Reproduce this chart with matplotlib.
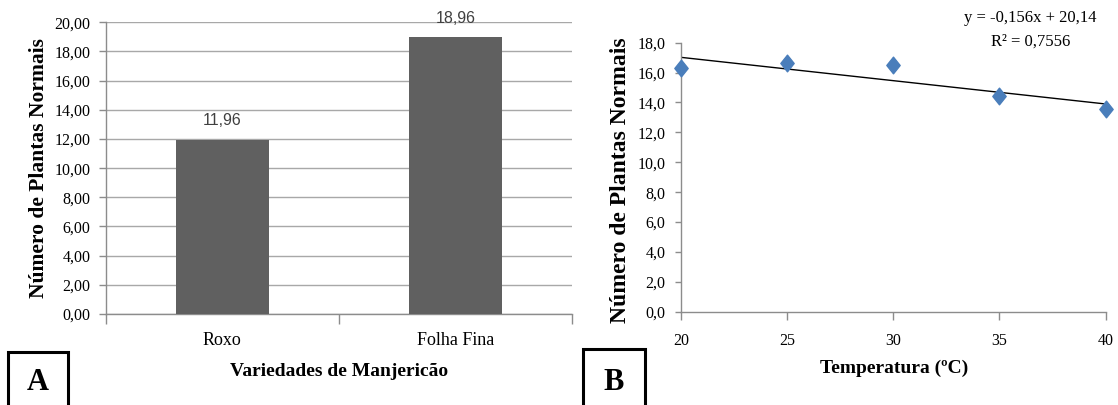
import matplotlib
matplotlib.use("Agg")
import matplotlib.pyplot as plt
from matplotlib.patches import Rectangle
from matplotlib.path import Path
import numpy as np

# ---------------- data ----------------
varieties = ["Roxo", "Folha Fina"]
normal_plants = [11.96, 18.96]
bar_labels = ["11,96", "18,96"]

temperatures = [20, 25, 30, 35, 40]
plants_temp = [16.3, 16.65, 16.5, 14.45, 13.55]
trend_slope = -0.156
trend_intercept = 20.14
eq_text = "y = -0,156x + 20,14"
r2_text = "R² = 0,7556"

yticks_a = [0, 2, 4, 6, 8, 10, 12, 14, 16, 18, 20]
yticks_b = [0, 2, 4, 6, 8, 10, 12, 14, 16, 18]

W, H = 1118, 405
fig = plt.figure(figsize=(W / 100, H / 100), dpi=100)
serif = "Liberation Serif"
axis_gray = "#8c8c8c"

def fx(px):
    return px / W

def fy(py):
    return (H - py) / H

# ---------------- panel A ----------------
axA = fig.add_axes([fx(105.7), fy(314), fx(572) - fx(105.7), fy(22.3) - fy(314)])
pos = np.arange(len(varieties))
axA.bar(pos, normal_plants, width=0.4, color="#606060", zorder=3)
axA.set_xlim(-0.5, 1.5)
axA.set_ylim(0, 20)
axA.set_yticks(yticks_a)
axA.set_yticklabels([f"{v:.2f}".replace(".", ",") for v in yticks_a],
                    fontname=serif, fontsize=11.5)
axA.yaxis.grid(True, color="#a8a8a8", linewidth=1, zorder=0)
axA.set_axisbelow(True)
axA.set_xticks([-0.5, 0.5, 1.5])
axA.set_xticklabels([])
axA.tick_params(axis="x", which="major", length=7, color=axis_gray, width=1)
axA.set_xticks(pos, minor=True)
axA.set_xticklabels(varieties, minor=True, fontname=serif, fontsize=13)
axA.tick_params(axis="x", which="minor", length=0, pad=13)
axA.tick_params(axis="y", length=5, color=axis_gray, width=1, pad=6)
for s in ["top", "right"]:
    axA.spines[s].set_visible(False)
for s in ["left", "bottom"]:
    axA.spines[s].set_color(axis_gray)
    axA.spines[s].set_linewidth(1)
for p, v, lab in zip(pos, normal_plants, bar_labels):
    axA.annotate(lab, (p, v), xytext=(0, 8), textcoords="offset points",
                 ha="center", va="bottom", fontname="Liberation Sans",
                 fontsize=11.5, color="#404040")

fig.text(fx(39), fy(168), "Número de Plantas Normais", rotation=90,
         ha="center", va="center", fontname=serif, fontweight="bold", fontsize=15.5)
fig.text(fx(339), fy(372), "Variedades de Manjericão", ha="center", va="center",
         fontname=serif, fontweight="bold", fontsize=14)

# ---------------- panel B ----------------
axB = fig.add_axes([fx(681), fy(311.7), fx(1105.5) - fx(681), fy(42.7) - fy(311.7)])
diamond = Path([(0, 1), (0.8, 0), (0, -1), (-0.8, 0), (0, 1)],
               [Path.MOVETO, Path.LINETO, Path.LINETO, Path.LINETO, Path.CLOSEPOLY])
xt = np.array([temperatures[0], temperatures[-1]])
axB.plot(xt, trend_slope * xt + trend_intercept, color="black", linewidth=1,
         zorder=2)
axB.plot(temperatures, plants_temp, linestyle="none", marker=diamond,
         markersize=12, color="#4a7ebb", zorder=3, clip_on=False)
axB.set_xlim(20, 40)
axB.set_ylim(0, 18)
axB.set_xticks(temperatures)
axB.set_xticklabels([str(t) for t in temperatures], fontname=serif, fontsize=11.5)
axB.set_yticks(yticks_b)
axB.set_yticklabels([f"{v:.1f}".replace(".", ",") for v in yticks_b],
                    fontname=serif, fontsize=11.5)
axB.tick_params(axis="x", length=6, color=axis_gray, width=1, pad=9)
axB.tick_params(axis="y", length=4, color=axis_gray, width=1, pad=7)
for s in ["top", "right"]:
    axB.spines[s].set_visible(False)
for s in ["left", "bottom"]:
    axB.spines[s].set_color(axis_gray)
    axB.spines[s].set_linewidth(1)

fig.text(fx(1030), fy(18), eq_text, ha="center", va="center",
         fontname=serif, fontsize=12)
fig.text(fx(1031), fy(42), r2_text, ha="center", va="center",
         fontname=serif, fontsize=12)
fig.text(fx(620), fy(180), "Número de Plantas Normais", rotation=90,
         ha="center", va="center", fontname=serif, fontweight="bold", fontsize=17)
fig.text(fx(894.5), fy(368), "Temperatura (ºC)", ha="center", va="center",
         fontname=serif, fontweight="bold", fontsize=14)

# ---------------- panel letters ----------------
for x0, x1, top, letter in [(8, 68, 352, "A"), (583, 645, 349, "B")]:
    rect = Rectangle((fx(x0), -0.05), fx(x1) - fx(x0), fy(top) + 0.05,
                     transform=fig.transFigure, fill=False, edgecolor="black",
                     linewidth=2.2, clip_on=False)
    fig.patches.append(rect)
    fig.text(fx((x0 + x1) / 2), fy(383), letter, ha="center", va="center",
             fontname=serif, fontweight="bold", fontsize=22)

fig.savefig("out.png", dpi=100)
